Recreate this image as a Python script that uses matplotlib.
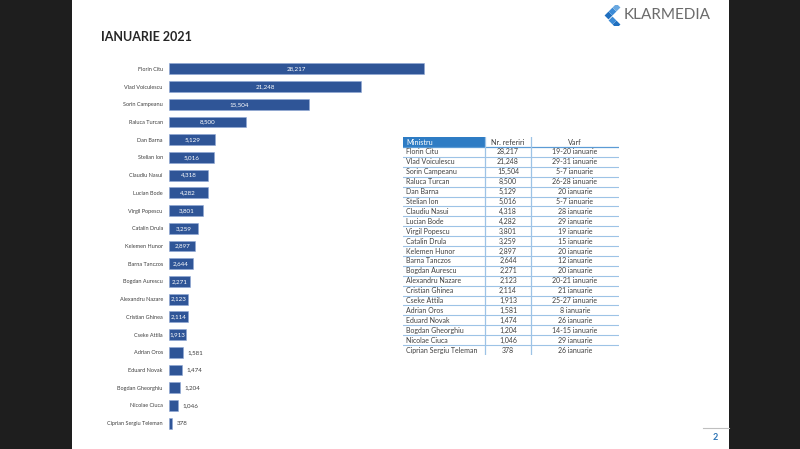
"""IANUARIE 2021 slide: references per minister, bar chart plus table."""
import matplotlib
matplotlib.use("Agg")
import matplotlib.pyplot as plt
from matplotlib.patches import Rectangle

plt.rcParams["font.family"] = ["Lato", "DejaVu Sans"]

NAMES = ["Florin Citu", "Vlad Voiculescu", "Sorin Campeanu", "Raluca Turcan",
         "Dan Barna", "Stelian Ion", "Claudiu Nasui", "Lucian Bode",
         "Virgil Popescu", "Catalin Drula", "Kelemen Hunor", "Barna Tanczos",
         "Bogdan Aurescu", "Alexandru Nazare", "Cristian Ghinea", "Cseke Attila",
         "Adrian Oros", "Eduard Novak", "Bogdan Gheorghiu", "Nicolae Ciuca",
         "Ciprian Sergiu Teleman"]
REFERIRI = [28217, 21248, 15504, 8500, 5129, 5016, 4318, 4282, 3801, 3259,
            2897, 2644, 2271, 2123, 2114, 1913, 1581, 1474, 1204, 1046, 378]
VARF = ["19-20 ianuarie", "29-31 ianuarie", "5-7 ianuarie", "26-28 ianuarie",
        "20 ianuarie", "5-7 ianuarie", "28 ianuarie", "29 ianuarie",
        "19 ianuarie", "15 ianuarie", "20 ianuarie", "12 ianuarie",
        "20 ianuarie", "20-21 ianuarie", "21 ianuarie", "25-27 ianuarie",
        "8 ianuarie", "26 ianuarie", "14-15 ianuarie", "29 ianuarie",
        "26 ianuarie"]
HEADERS = ["Ministru", "Nr. referiri", "Varf"]

W, H = 800, 449
BAR_COLOR = "#2f5597"
HEAD_COLOR = "#2e7cc4"
LINE_COLOR = "#9dc3e6"
TEXT_COLOR = "#404040"


def px_axes(fig, left, top, width, height):
    """Axes placed in pixel coordinates measured from the top-left corner."""
    return fig.add_axes([left / W, 1 - (top + height) / H, width / W, height / H])


fig = plt.figure(figsize=(W / 100, H / 100), dpi=100, facecolor="#1e1e1e")

# white slide
fig.patches.append(Rectangle((72 / W, 0), (729 - 72) / W, 1, transform=fig.transFigure,
                             facecolor="white", edgecolor="none", zorder=-10))

fig.text(101 / W, 1 - 37 / H, "IANUARIE 2021", fontsize=9, fontweight="bold",
         color="#262626", va="center", ha="left")

# logo
logo = px_axes(fig, 603, 5, 18, 20)
logo.set_xlim(0, 4)
logo.set_ylim(0, 4)
logo.axis("off")
for (lx, ly, c) in [(1.1, 2.0, "#1f6fbf"), (2.0, 2.9, "#3a8ad6"), (2.0, 1.1, "#3a8ad6"),
                    (2.9, 3.6, "#6aa8e0"), (2.9, 0.3, "#1f6fbf")]:
    logo.scatter([lx], [ly], marker="D", s=16, color=c, linewidths=0)
fig.text(624 / W, 1 - 15 / H, "KLARMEDIA", fontsize=11, color="#6b6b6b",
         va="center", ha="left")

# bar chart
ax = px_axes(fig, 169, 60, 261, 372)
y = list(range(len(NAMES)))
bars = ax.barh(y, REFERIRI, height=0.62, color=BAR_COLOR, edgecolor="#8fa8d6",
               linewidth=0.4)
ax.set_xlim(0, 28900)
ax.set_ylim(len(NAMES) - 0.5, -0.5)
ax.set_yticks(y)
ax.set_yticklabels(NAMES, fontsize=4, color=TEXT_COLOR)
ax.tick_params(axis="y", length=0, pad=4.5)
ax.set_xticks([])
for s in ax.spines.values():
    s.set_visible(False)
ax.patch.set_alpha(0)

for rect, v in zip(bars, REFERIRI):
    cy = rect.get_y() + rect.get_height() / 2
    if v >= 1800:
        ax.text(v / 2, cy, f"{v:,}", ha="center", va="center", fontsize=4.5,
                color="white")
    else:
        ax.annotate(f"{v:,}", (v, cy), xytext=(3, 0), textcoords="offset points",
                    ha="left", va="center", fontsize=4.5, color=TEXT_COLOR)

# table
tb = px_axes(fig, 403, 137, 216, 218)
tb.set_xlim(0, 216)
tb.set_ylim(218, 0)
tb.axis("off")
col_x = [0, 82, 128, 216]
head_h = 10
row_h = (218 - head_h) / len(NAMES)

tb.add_patch(Rectangle((col_x[0], 0), col_x[1] - col_x[0], head_h,
                       facecolor=HEAD_COLOR, edgecolor="none"))
tb.text(3, head_h / 2, HEADERS[0], fontsize=5.2, color="white", va="center", ha="left")
tb.text((col_x[1] + col_x[2]) / 2, head_h / 2, HEADERS[1], fontsize=5.2,
        color=TEXT_COLOR, va="center", ha="center")
tb.text((col_x[2] + col_x[3]) / 2, head_h / 2, HEADERS[2], fontsize=5.2,
        color=TEXT_COLOR, va="center", ha="center")
tb.plot([0, 216], [head_h, head_h], color="#5b9bd5", lw=0.9)

for i, (name, v, varf) in enumerate(zip(NAMES, REFERIRI, VARF)):
    top = head_h + i * row_h
    cy = top + row_h / 2
    tb.text(3, cy, name, fontsize=5, color=TEXT_COLOR, va="center", ha="left")
    tb.text((col_x[1] + col_x[2]) / 2, cy, f"{v:,}", fontsize=5, color=TEXT_COLOR,
            va="center", ha="center")
    tb.text((col_x[2] + col_x[3]) / 2, cy, varf, fontsize=5, color=TEXT_COLOR,
            va="center", ha="center")
    if i < len(NAMES) - 1:
        tb.plot([0, 216], [top + row_h, top + row_h], color=LINE_COLOR, lw=0.8)

for cx in col_x[1:3]:
    tb.plot([cx, cx], [0, 218], color=LINE_COLOR, lw=0.9)

# page footer
fig.add_artist(plt.Line2D([703 / W, 729 / W], [1 - 428 / H, 1 - 428 / H],
                          color="#bfbfbf", lw=0.8))
fig.text(715 / W, 1 - 437 / H, "2", fontsize=6.5, fontweight="bold", color="#2e75b6",
         ha="center", va="center")

fig.savefig("out.png", dpi=100, facecolor=fig.get_facecolor())
